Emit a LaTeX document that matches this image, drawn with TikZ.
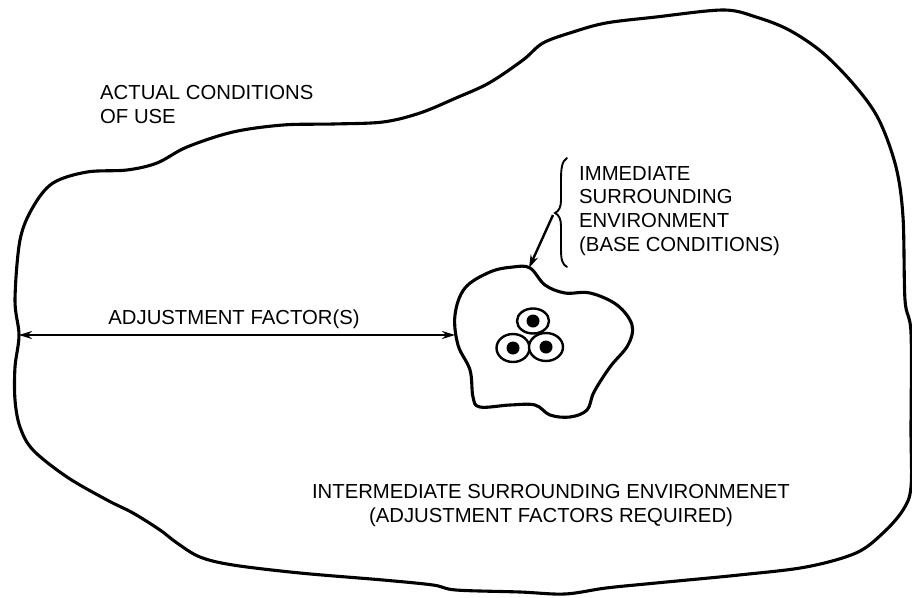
\documentclass[tikz,border=0pt]{standalone}
\usepackage{fontspec}
\setmainfont{Liberation Sans}
\usetikzlibrary{arrows.meta}
\begin{document}
\begin{tikzpicture}[x=1pt,y=-1pt,
  outline/.style={line width=3.1pt,line join=round},
  lbl/.style={font=\fontsize{20.3}{23.6}\selectfont,inner sep=0pt,align=left},
  tip/.style={-{Stealth[length=13pt,width=8pt]},line width=2.4pt},
  tips/.style={{Stealth[length=13pt,width=8pt]}-{Stealth[length=13pt,width=8pt]},line width=2.4pt}]
\useasboundingbox (0,0) rectangle (912,597);
% outer boundary
\draw[outline] plot[smooth cycle,tension=0.55] coordinates {
 (15,300) (20,240) (33,207) (53,183) (87,172) (127,170) (157,163) (187,147)
 (233,132) (283,125) (333,124) (383,122) (420,113) (456,98) (489,83) (523,60)
 (543,43) (573,32) (606,23) (656,17) (723,10) (756,17) (789,30) (823,53)
 (856,87) (879,120) (896,167) (903,217) (905,300) (911,333) (911,430) (911,487)
 (903,510) (883,533) (856,553) (806,567) (739,575) (656,583) (606,588) (565,594)
 (520,592) (456,590) (433,585) (383,580) (300,573) (233,565) (200,557) (177,543)
 (160,530) (133,513) (107,500) (67,477) (33,450) (20,427) (15,400) (15,367)
 (19,335)};
% inner blob
\draw[outline] plot[smooth cycle,tension=0.6] coordinates {
 (530,268) (545,285) (565,293) (590,293) (617,305) (632,325) (628,345) (610,367)
 (594,392) (587,410) (570,417) (550,415) (535,405) (510,405) (480,407) (473,397)
 (470,370) (458,345) (455,315) (465,288) (490,272) (513,267)};
% cells
\foreach \n/\cx/\cy/\rx/\ry in {c1/533/321/16/12.5, c2/513/348/16.5/14, c3/546/347/17/14}{
  \draw[line width=2.4pt,fill=white] (\cx,\cy) ellipse [x radius=\rx,y radius=\ry];
  \fill (\cx,\cy) circle (6.5);
}
% coordinates for connectors
\coordinate (leftedge) at (19,335);
\coordinate (blobleft) at (455,335);
\coordinate (bracetip) at (553,215);
\coordinate (blobtop) at (529,268);
\draw[tips] (leftedge) -- (blobleft);
\draw[tip] (bracetip) -- (blobtop);
% brace
\draw[line width=1.9pt,line cap=round] (567,158) .. controls (562,161) and (561,168) .. (561,180)
  -- (561,200) .. controls (561,207) and (559,211) .. (555,213)
  .. controls (559,215) and (561,219) .. (561,226)
  -- (561,248) .. controls (561,260) and (562,264) .. (567,267);
% labels
\node[lbl,anchor=base west] (acu) at (100,123.5) {ACTUAL CONDITIONS\\OF USE};
\node[lbl,anchor=base west] (ise) at (579,251) {IMMEDIATE\\SURROUNDING\\ENVIRONMENT\\(BASE CONDITIONS)};
\node[lbl,anchor=base] (adj) at (234,324) {ADJUSTMENT FACTOR(S)};
\node[lbl,anchor=base,align=center] (mid) at (551,522) {INTERMEDIATE SURROUNDING ENVIRONMENET\\(ADJUSTMENT FACTORS REQUIRED)};
\end{tikzpicture}
\end{document}
